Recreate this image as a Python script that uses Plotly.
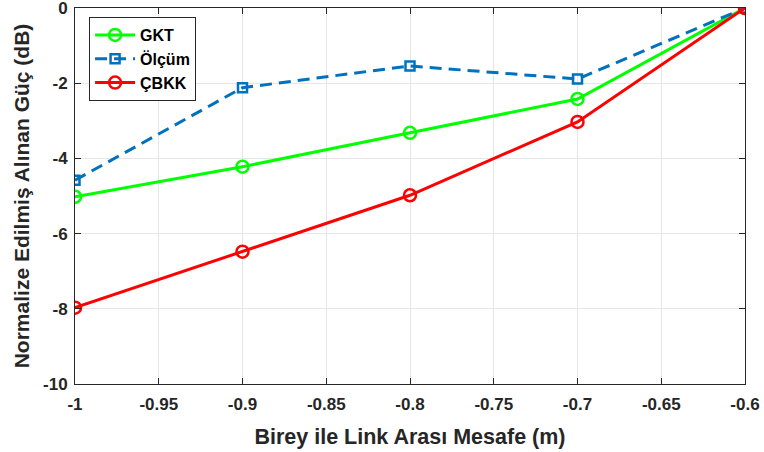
import plotly.graph_objects as go

x = [-1.0, -0.9, -0.8, -0.7, -0.6]
gkt = [-5.02, -4.22, -3.32, -2.42, 0.0]
olcum = [-4.58, -2.12, -1.54, -1.89, 0.0]
cbkk = [-7.97, -6.48, -4.98, -3.03, 0.0]
xticks = [-1, -0.95, -0.9, -0.85, -0.8, -0.75, -0.7, -0.65, -0.6]
xticklabels = ["-1", "-0.95", "-0.9", "-0.85", "-0.8", "-0.75", "-0.7", "-0.65", "-0.6"]
yticks = [-10, -8, -6, -4, -2, 0]
yticklabels = ["-10", "-8", "-6", "-4", "-2", "0"]

ff = "Liberation Sans, Arial, sans-serif"
ink = "#262626"

fig = go.Figure()
fig.add_trace(go.Scatter(x=x, y=gkt, name="GKT", mode="lines+markers",
                         line=dict(color="#00FF00", width=3),
                         marker=dict(symbol="circle-open", size=12, color="#00FF00", line=dict(width=2.5))))
fig.add_trace(go.Scatter(x=x, y=olcum, name="Ölçüm", mode="lines+markers",
                         line=dict(color="#0072BD", width=3, dash="12px,7px"),
                         marker=dict(symbol="square-open", size=9, color="#0072BD", line=dict(width=2.5))))
fig.add_trace(go.Scatter(x=x, y=cbkk, name="ÇBKK", mode="lines+markers",
                         line=dict(color="#FF0000", width=3),
                         marker=dict(symbol="circle-open", size=12, color="#FF0000", line=dict(width=2.5))))

fig.update_layout(
    width=764, height=452,
    margin=dict(l=75, r=19, t=8, b=68),
    paper_bgcolor="white", plot_bgcolor="white",
    font=dict(family=ff, size=16, color=ink, weight="bold"),
    showlegend=True,
    legend=dict(x=0.021, y=0.976, xanchor="left", yanchor="top",
                bgcolor="white", bordercolor=ink, borderwidth=1,
                font=dict(size=16, color="black", family=ff, weight="bold"),
                tracegroupgap=0, itemwidth=40),
    xaxis=dict(range=[-1, -0.6], tickvals=xticks, ticktext=xticklabels, automargin=False,
               showgrid=True, gridcolor="#E6E6E6", gridwidth=1,
               showline=True, linecolor=ink, linewidth=1, mirror="ticks",
               ticks="inside", ticklen=6, tickcolor=ink, ticklabelstandoff=5,
               ticklabeloverflow="allow",
               tickfont=dict(size=17, color=ink, family=ff, weight="bold"),
               title=dict(text="Birey ile Link Arası Mesafe (m)", font=dict(size=21.5, color=ink, weight="bold"), standoff=15),
               zeroline=False),
    yaxis=dict(range=[-10, 0], tickvals=yticks, ticktext=yticklabels, automargin=False,
               showgrid=True, gridcolor="#E6E6E6", gridwidth=1,
               showline=True, linecolor=ink, linewidth=1, mirror="ticks",
               ticks="inside", ticklen=6, tickcolor=ink, ticklabelstandoff=3,
               ticklabeloverflow="allow",
               tickfont=dict(size=17, color=ink, family=ff, weight="bold"),
               title=dict(text="Normalize Edilmiş Alınan Güç (dB)", font=dict(size=21, color=ink, weight="bold"), standoff=7),
               zeroline=False),
)

fig.write_html("out.html", config={"displayModeBar": False},
               post_script="document.body.style.margin='0';")
